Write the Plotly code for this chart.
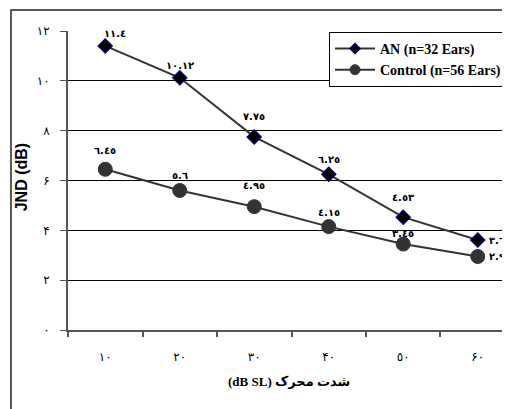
import plotly.graph_objects as go

categories = ["10", "20", "30", "40", "50", "60"]
x_tick_labels = ["۱۰", "۲۰", "۳۰", "۴۰", "٥۰", "۶۰"]
an_values = [11.4, 10.12, 7.75, 6.25, 4.53, 3.61]
control_values = [6.45, 5.6, 4.95, 4.15, 3.45, 2.95]
y_tick_values = [0, 2, 4, 6, 8, 10, 12]
y_tick_labels = ["٠", "۲", "۴", "۶", "۸", "۱۰", "۱۲"]
an_name = "AN (n=32 Ears)"
control_name = "Control (n=56 Ears)"
x_title = "(dB SL) شدت محرک"
y_title = "JND (dB)"

AR = str.maketrans("0123456789", "٠١٢٣٤٥٦٧٨٩")


def ar(v):
    return str(v).translate(AR)


LINE = "#333333"
an_marker = dict(symbol="diamond", color="black", line=dict(color="#000080", width=1.2))
ct_marker = dict(symbol="circle", color=LINE, line=dict(color=LINE, width=1))

fig = go.Figure()
fig.add_trace(go.Scatter(
    x=categories, y=an_values, name=an_name, mode="lines+markers",
    line=dict(color=LINE, width=2), showlegend=False,
    marker=dict(size=11, **an_marker),
))
fig.add_trace(go.Scatter(
    x=categories, y=control_values, name=control_name, mode="lines+markers",
    line=dict(color=LINE, width=2), showlegend=False,
    marker=dict(size=14, **ct_marker),
))
# legend entries with smaller markers
fig.add_trace(go.Scatter(
    x=[None], y=[None], name=an_name, mode="lines+markers",
    line=dict(color=LINE, width=2), marker=dict(size=8, **an_marker),
))
fig.add_trace(go.Scatter(
    x=[None], y=[None], name=control_name, mode="lines+markers",
    line=dict(color=LINE, width=2), marker=dict(size=10, **ct_marker),
))

# label offsets (styling only)
an_off = [(10, -12), (0, -12), (0, -20), (0, -15), (0, -20), (22, 0)]
ct_off = [(0, -19), (0, -15), (0, -21), (0, -14), (0, -11), (22, 0)]
annotations = []
for vals, offs in ((an_values, an_off), (control_values, ct_off)):
    for i, (v, (dx, dy)) in enumerate(zip(vals, offs)):
        annotations.append(dict(
            x=i, y=v, xref="x", yref="y", text=ar(v), showarrow=False,
            xshift=dx, yshift=-dy,
            font=dict(family="DejaVu Sans", size=10, color="black", weight="bold"),
        ))

annotations.append(dict(
    x=-0.127, y=0.512, xref="paper", yref="paper", text=y_title,
    textangle=-90, showarrow=False,
    font=dict(family="Liberation Sans", size=16, color="black", weight="bold"),
))
annotations.append(dict(
    x=0.5, y=-0.204, xref="paper", yref="paper", text=x_title,
    showarrow=False,
    font=dict(family="Liberation Serif, DejaVu Sans", size=13, color="black", weight="bold"),
))

# page body has an 8px margin: figure is sized/placed to compensate
fig.update_layout(
    width=502, height=401,
    margin=dict(l=60, r=0, t=23, b=79),
    paper_bgcolor="white", plot_bgcolor="white",
    showlegend=True,
    legend=dict(
        x=0.5905, y=0.997, xanchor="left", yanchor="top",
        bgcolor="white", bordercolor="black", borderwidth=1,
        font=dict(family="Liberation Serif", size=14, color="black", weight="bold"),
        tracegroupgap=0, itemwidth=40, entrywidth=200,
    ),
    annotations=annotations,
    shapes=[dict(
        type="rect", xref="paper", yref="paper",
        x0=-0.129, x1=1.2, y0=-0.3, y1=1.070,
        line=dict(color="#222222", width=1.5), fillcolor="rgba(0,0,0,0)",
        layer="below",
    )],
)
fig.update_xaxes(
    type="category", range=[-0.5, 5.433],
    tickvals=categories, ticktext=x_tick_labels,
    tickson="boundaries", ticks="outside", ticklen=5, tickcolor="#555555",
    tickwidth=1.5,
    showline=True, linecolor="#555555", linewidth=2,
    showgrid=False, zeroline=False,
    ticklabelstandoff=15,
    tickfont=dict(family="DejaVu Sans", size=12, color="black"),
)
fig.update_yaxes(
    range=[0, 12], tickvals=y_tick_values, ticktext=y_tick_labels,
    ticks="outside", ticklen=6, tickcolor="#555555", tickwidth=1,
    showline=True, linecolor="#555555", linewidth=2,
    showgrid=True, gridcolor="black", gridwidth=1,
    zeroline=False,
    ticklabelstandoff=8,
    tickfont=dict(family="DejaVu Sans", size=12, color="black"),
)

fig.write_html("out.html")
